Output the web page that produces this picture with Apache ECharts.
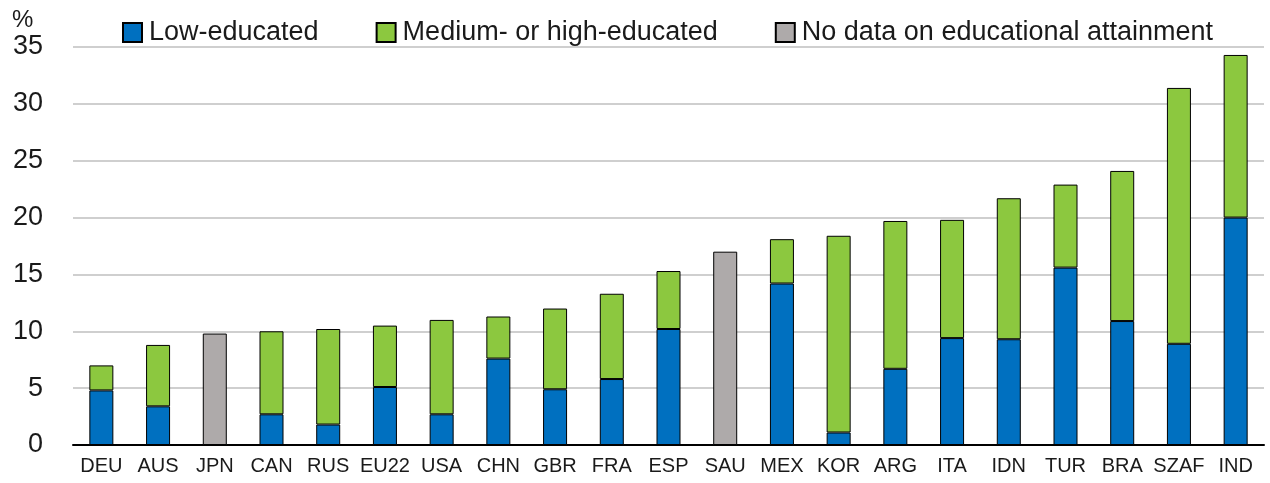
<!DOCTYPE html>
<html lang="en">
<head>
    <meta charset="UTF-8">
    <title>Educational attainment</title>
    <style>
        html, body { margin: 0; padding: 0; background: #fff; }
        #main { width: 1270px; height: 483px; }
    </style>
</head>
<body>
<div id="main"></div>
<script src="https://cdn.jsdelivr.net/npm/echarts@6/dist/echarts.min.js"></script>
<script>
    // categories and values
    const countries = ['DEU', 'AUS', 'JPN', 'CAN', 'RUS', 'EU22', 'USA', 'CHN', 'GBR', 'FRA', 'ESP',
        'SAU', 'MEX', 'KOR', 'ARG', 'ITA', 'IDN', 'TUR', 'BRA', 'SZAF', 'IND'];
    const lowEducated = [4.8, 3.4, null, 2.7, 1.8, 5.1, 2.7, 7.6, 4.9, 5.8, 10.2,
        null, 14.2, 1.1, 6.7, 9.4, 9.3, 15.6, 10.9, 8.9, 20.0];
    const medHighEducated = [2.2, 5.4, null, 7.3, 8.4, 5.4, 8.3, 3.7, 7.1, 7.5, 5.1,
        null, 3.9, 17.3, 13.0, 10.4, 12.4, 7.3, 13.2, 22.5, 14.3];
    const noData = [null, null, 9.8, null, null, null, null, null, null, null, null,
        17.0, null, null, null, null, null, null, null, null, null];
    const yTicks = [0, 5, 10, 15, 20, 25, 30, 35];

    const font = '"Liberation Sans", Arial, sans-serif';
    const border = { borderColor: '#000', borderWidth: 1 };

    const myChart = echarts.init(document.getElementById('main'));
    myChart.setOption({
        animation: false,
        title: {
            text: '%',
            left: 7,
            top: 3,
            textStyle: { fontFamily: font, fontSize: 24, fontWeight: 'normal', color: '#1a1a1a' }
        },
        legend: {
            left: 117,
            top: 14,
            width: 1150,
            icon: 'rect',
            itemWidth: 19,
            itemHeight: 19,
            itemGap: 57,
            textStyle: { fontFamily: font, fontSize: 27, color: '#1a1a1a', padding: [0, 0, 0, 2] }
        },
        grid: { left: 73, right: 6, top: 47, bottom: 38 },
        xAxis: {
            type: 'category',
            data: countries,
            axisLine: { lineStyle: { color: '#000', width: 2 } },
            axisTick: { inside: true, length: 7, lineStyle: { color: '#000', width: 2 } },
            axisLabel: { interval: 0, fontFamily: font, fontSize: 20, color: '#1a1a1a', margin: 11 }
        },
        yAxis: {
            type: 'value',
            min: yTicks[0],
            max: yTicks[yTicks.length - 1],
            interval: 5,
            axisLine: { show: false },
            axisTick: { show: false },
            axisLabel: { fontFamily: font, fontSize: 27, color: '#1a1a1a', margin: 30 },
            splitLine: { lineStyle: { color: '#cfcfcf', width: 2 } }
        },
        series: [
            {
                name: 'Low-educated',
                type: 'bar',
                stack: 'total',
                barWidth: 24,
                data: lowEducated,
                itemStyle: Object.assign({ color: '#0070c0' }, border)
            },
            {
                name: 'Medium- or high-educated',
                type: 'bar',
                stack: 'total',
                barWidth: 24,
                data: medHighEducated,
                itemStyle: Object.assign({ color: '#8cc83f' }, border)
            },
            {
                name: 'No data on educational attainment',
                type: 'bar',
                stack: 'total',
                barWidth: 24,
                data: noData,
                itemStyle: Object.assign({ color: '#aeaaaa' }, border)
            }
        ]
    });
</script>
</body>
</html>
